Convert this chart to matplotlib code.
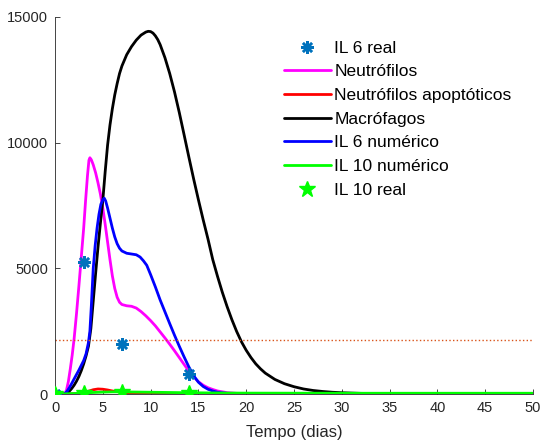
import matplotlib
matplotlib.use("Agg")
import matplotlib.pyplot as plt

plt.rcParams['font.family'] = ['Liberation Sans', 'DejaVu Sans']

# Macrófagos
t_mac = [0, 1.0, 1.25, 1.5, 1.75, 2.0, 2.25, 2.5, 2.75, 3.0, 3.25, 3.5, 3.75, 4.0, 4.25,
         4.5, 4.75, 5.0, 5.25, 5.5, 5.75, 6.0, 6.25, 6.5, 6.75, 7.0, 7.5, 8.0, 8.5, 9.0,
         9.5, 9.75, 10.0, 10.25, 10.5, 10.75, 11.0, 11.5, 12.0, 12.5, 13.0, 13.5, 14.0,
         14.5, 15.0, 15.5, 16.0, 16.5, 17.0, 17.5, 18.0, 18.5, 19.0, 19.5, 20.0, 20.5,
         21.0, 21.5, 22.0, 23.0, 24.0, 25.0, 26.0, 27.0, 28.0, 29.0, 30.0, 32.0, 35.0,
         40.0, 50.0]
v_mac = [0, 0, 40, 110, 220, 350, 510, 700, 930, 1200, 1520, 1900, 2600, 3700, 4800,
         5850, 6800, 7700, 8850, 9900, 10700, 11350, 11900, 12350, 12750, 13050, 13500,
         13820, 14080, 14280, 14400, 14430, 14420, 14360, 14250, 14100, 13900, 13380,
         12750, 12020, 11200, 10320, 9430, 8560, 7730, 6930, 6170, 5350, 4680, 4050,
         3480, 2960, 2490, 2080, 1740, 1450, 1200, 1000, 830, 580, 410, 290, 200, 140,
         100, 70, 50, 25, 10, 2, 0]

# Neutrófilos
t_neu = [0, 1.0, 1.2, 1.4, 1.6, 1.8, 2.0, 2.25, 2.5, 2.75, 3.0, 3.2, 3.4, 3.55, 3.65,
         3.8, 4.0, 4.25, 4.5, 4.75, 5.0, 5.25, 5.5, 5.75, 6.0, 6.25, 6.5, 6.75, 7.0, 7.5,
         8.0, 8.5, 9.0, 9.5, 10.0, 10.5, 11.0, 11.5, 12.0, 12.5, 13.0, 13.5, 14.0, 14.5,
         15.0, 15.5, 16.0, 16.5, 17.0, 18.0, 19.0, 20.0, 22.0, 25.0, 50.0]
v_neu = [0, 0, 150, 500, 1000, 1550, 2200, 3200, 4300, 5450, 6600, 7700, 8700, 9300,
         9400, 9320, 9120, 8800, 8400, 7950, 7400, 6750, 6050, 5350, 4700, 4200, 3850,
         3650, 3560, 3510, 3490, 3420, 3280, 3110, 2920, 2710, 2470, 2230, 1980, 1720,
         1450, 1180, 910, 680, 490, 350, 250, 180, 120, 55, 25, 12, 4, 0, 0]

# Neutrófilos apoptóticos
t_apo = [0, 1, 2, 3, 3.5, 4.0, 4.5, 5.0, 5.5, 6.0, 7.0, 8.0, 10, 12, 15, 50]
v_apo = [0, 0, 10, 60, 110, 170, 200, 190, 160, 120, 70, 40, 15, 5, 0, 0]

# IL 6 numérico
t_il6 = [0, 1.0, 1.25, 1.5, 1.75, 2.0, 2.5, 3.0, 3.25, 3.5, 3.65, 3.8, 4.0, 4.2, 4.4,
         4.6, 4.8, 5.0, 5.15, 5.3, 5.5, 5.75, 6.0, 6.25, 6.5, 6.75, 7.0, 7.5, 8.0, 8.5,
         8.9, 9.25, 9.6, 10.0, 10.5, 11.0, 11.5, 12.0, 12.5, 13.0, 13.5, 14.0, 14.5,
         15.0, 15.5, 16.0, 16.5, 17.0, 18.0, 20.0, 25.0, 50.0]
v_il6 = [0, 0, 100, 250, 420, 600, 950, 1330, 1600, 2050, 2500, 3500, 5000, 5900, 6600,
         7150, 7550, 7720, 7790, 7680, 7400, 7000, 6600, 6250, 5980, 5800, 5690, 5600,
         5570, 5540, 5450, 5300, 5120, 4750, 4260, 3740, 3270, 2800, 2340, 1900, 1480,
         1080, 730, 470, 300, 190, 120, 70, 25, 5, 0, 0]

# IL 10 numérico
t_il10 = [0, 1, 2, 3, 4, 5, 6, 7, 8, 10, 12, 14, 17, 20, 30, 50]
v_il10 = [0, 5, 20, 40, 60, 75, 85, 85, 80, 70, 60, 50, 40, 35, 30, 30]

# Measured values
t_il6_real = [0, 3, 7, 14]
v_il6_real = [0, 5250, 2000, 800]
t_il10_real = [0, 3, 7, 14]
v_il10_real = [0, 50, 90, 50]

threshold = 2150

x_ticks = [0, 5, 10, 15, 20, 25, 30, 35, 40, 45, 50]
y_ticks = [0, 5000, 10000, 15000]

fig = plt.figure(figsize=(5.42, 4.41), dpi=100)
ax = fig.add_axes([55 / 542, 1 - 394 / 441, (533 - 55) / 542, (394 - 17) / 441])

lw = 2.0
style = dict(lw=lw, solid_joinstyle='round', solid_capstyle='round')
ax.plot(t_il6_real, v_il6_real, linestyle='none', marker=(8, 2, 0), markersize=9,
        markeredgewidth=1.8, color='#0072BD', label='IL 6 real', zorder=3)
ax.plot(t_neu, v_neu, color='#FF00FF', label='Neutrófilos', **style)
ax.plot(t_apo, v_apo, color='#FF0000', label='Neutrófilos apoptóticos', **style)
ax.plot(t_mac, v_mac, color='black', label='Macrófagos', **style)
ax.plot(t_il6, v_il6, color='#0000FF', label='IL 6 numérico', **style)
ax.plot(t_il10, v_il10, color='#00FF00', label='IL 10 numérico', **style)
ax.plot(t_il10_real, v_il10_real, linestyle='none', marker='*', markersize=12,
        color='#00FF00', markeredgecolor='#00FF00', label='IL 10 real', zorder=4)
ax.plot([0, 50], [threshold, threshold], linestyle=':', color='#D95319', lw=1.0)

ax.set_xlim(0, 50)
ax.set_ylim(0, 15000)
ax.set_xticks(x_ticks)
ax.set_yticks(y_ticks)
for s in ('top', 'right'):
    ax.spines[s].set_visible(False)
for s in ('left', 'bottom'):
    ax.spines[s].set_color('#262626')
    ax.spines[s].set_linewidth(0.6)
ax.tick_params(direction='in', length=3.5, width=0.6, color='#262626',
               labelcolor='#262626', labelsize=10.5, pad=5)
ax.set_xlabel('Tempo (dias)', fontsize=12, color='#262626', labelpad=7)

fig.legend(loc='upper left', bbox_to_anchor=(284 / 542, 1 - 40.5 / 441), frameon=False,
           fontsize=12.5, handlelength=2.69, handletextpad=0.2, labelspacing=0.49,
           borderpad=0, borderaxespad=0, numpoints=1)

fig.savefig('out.png', dpi=100)
